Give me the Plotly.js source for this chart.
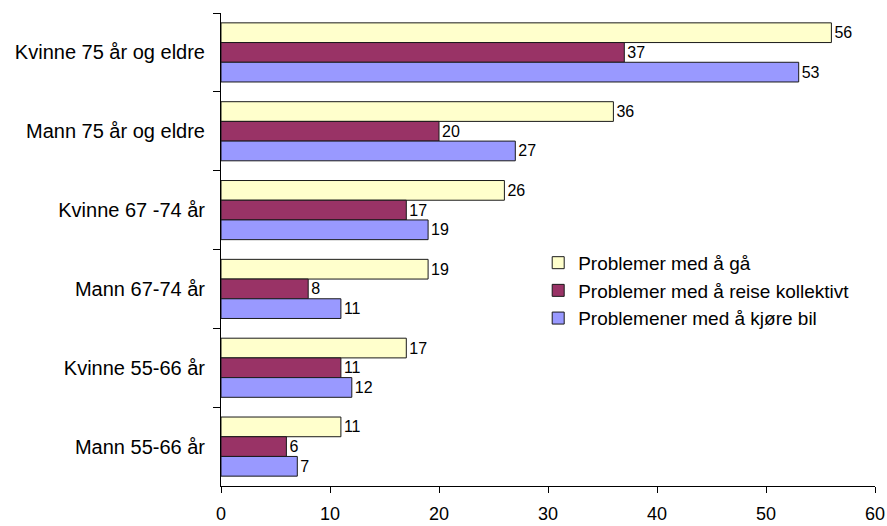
<!DOCTYPE html>
<html>
<head>
<meta charset="utf-8">
<script src="https://cdn.plot.ly/plotly-3.0.1.min.js"></script>
<style>html,body{margin:0;padding:0;background:#fff;}#chart{width:887px;height:526px;}</style>
</head>
<body>
<div id="chart"></div>
<script>
const categories = ["Kvinne 75 år og eldre", "Mann 75 år og eldre", "Kvinne 67 -74 år", "Mann 67-74 år", "Kvinne 55-66 år", "Mann 55-66 år"];
const seriesNames = ["Problemer med å gå", "Problemer med å reise kollektivt", "Problemener med å kjøre bil"];
const gaa = [56, 36, 26, 19, 17, 11];
const reise = [37, 20, 17, 8, 11, 6];
const bil = [53, 27, 19, 11, 12, 7];
const xTicks = [0, 10, 20, 30, 40, 50, 60];

const colors = ["#FFFFCC", "#993366", "#9999FF"];
const FONT = "Liberation Sans, Arial, sans-serif";
const values = [gaa, reise, bil];

const traces = values.map((v, i) => ({
  type: "bar",
  orientation: "h",
  name: seriesNames[i],
  y: categories,
  x: v,
  text: v.map(String),
  textposition: "outside",
  constraintext: "none",
  cliponaxis: false,
  textfont: {family: FONT, size: 16, color: "#000"},
  marker: {color: colors[i], line: {color: "#1a1a1a", width: 1}},
  legendgroup: "g" + i,
  hoverinfo: "x+name"
}));

const layout = {
  width: 887, height: 526,
  margin: {l: 221, r: 12, t: 13, b: 40},
  paper_bgcolor: "#fff", plot_bgcolor: "#fff",
  font: {family: FONT, color: "#000"},
  barmode: "group",
  bargap: 0.25,
  bargroupgap: 0,
  showlegend: true,
  legend: {
    x: 0.485, y: 0.512, xanchor: "left", yanchor: "top",
    font: {family: FONT, size: 19, color: "#000"},
    traceorder: "grouped",
    tracegroupgap: 0,
    bgcolor: "rgba(0,0,0,0)",
    itemclick: false
  },
  xaxis: {
    range: [0, 60],
    tickvals: xTicks,
    ticktext: xTicks.map(String),
    showgrid: false, zeroline: false,
    showline: true, linecolor: "#000", linewidth: 1,
    ticks: "outside", ticklen: 6, tickcolor: "#000",
    ticklabelstandoff: 5,
    tickfont: {family: FONT, size: 18, color: "#000"},
    fixedrange: true
  },
  yaxis: {
    type: "category",
    autorange: "reversed",
    showgrid: false, zeroline: false,
    showline: true, linecolor: "#000", linewidth: 1,
    ticks: "outside", ticklen: 7, tickcolor: "#000",
    tickson: "boundaries",
    ticklabelstandoff: 11,
    tickfont: {family: FONT, size: 20, color: "#000"},
    fixedrange: true
  }
};

Plotly.newPlot("chart", traces, layout, {displayModeBar: false, staticPlot: true});
</script>
</body>
</html>
